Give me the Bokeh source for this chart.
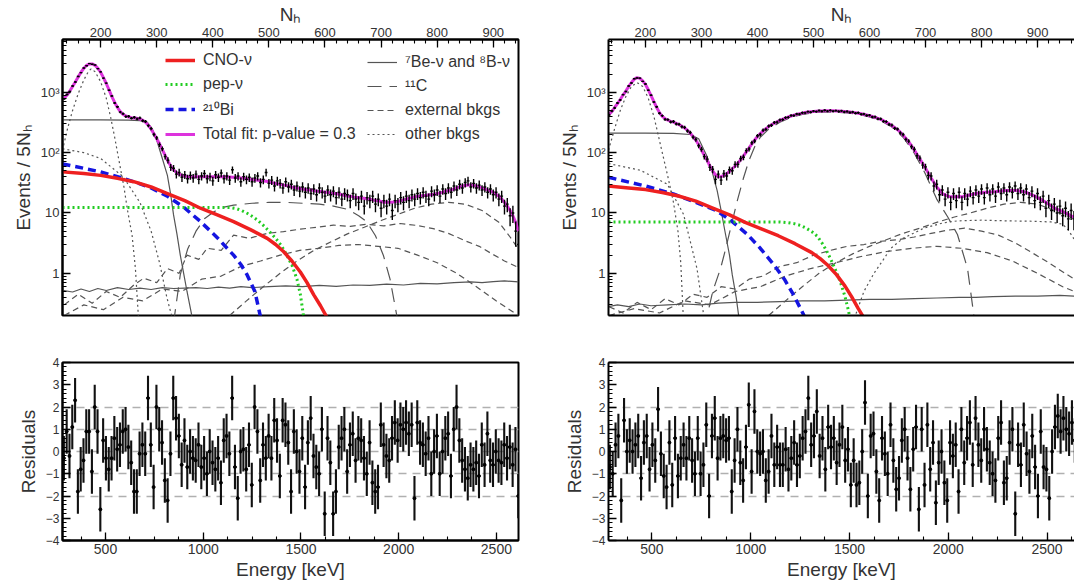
import numpy as np
from bokeh.plotting import figure
from bokeh.models import ColumnDataSource, Range1d, FixedTicker, LinearAxis, Legend, LegendItem
from bokeh.layouts import column, row
from bokeh.embed import file_html
from bokeh.resources import INLINE

FONT = "Liberation Sans"

# ---------------- binning ----------------
nh_first = 135
nh_step = 5
e_first = 287.0
e_step = 14.35

# ---------------- left spectrum (Nh bins 135..945) ----------------
fit_left = [800,900,1050,1250,1500,1800,2150,2500,2800,2950,
            2950,2800,2500,2150,1750,1400,1100,850,680,560,
            480,430,405,390,380,375,370,360,345,320,
            285,245,205,170,140,112,90,72,60,52,
            47,44,42,41,40,40,40,40,40,40,
            40,40,40,40,40,40,40,40,39.5,39.5,
            39,39,38.5,38,37.5,37,36.5,36,35.5,35,
            34.5,34,33.5,33,32,31,30.5,30,29,28.5,
            28,27,26.5,26,25.5,25,24.5,24,24,23.5,
            23,23,22.5,22,22,21.5,21,21,20.5,20,
            19.5,19,19,18.5,18,18,17.5,17.5,17,17,
            16.5,16,16,15.5,15,15,15,15,15.5,15.5,
            16,16.5,17,17.5,18,18.5,19,19,19.5,19.5,
            20,20,20.5,21,21.5,22,23,23.5,24,25,
            26,27,28,28.5,29,29,28.5,28,27,26,
            25,24,23,22,20.5,19,17,15,13,11,
            9,7,5]
data_left = [780,920,1030,1270,1480,1830,2120,2530,2760,2990,
             2920,2830,2470,2180,1720,1420,1080,870,665,575,
             470,440,395,400,372,385,362,376,338,328,
             280,250,200,176,136,116,86,75,57,55,
             44,47,39,43,37,42,38,44,36,41,
             45,37,40,34,43,39,46,37,41,35,
             52,38,41,33,40,36,39,33,38,41,
             32,36,47,31,35,28,34,31,26,33,
             27,30,24,28,23,27,22,26,21,25,
             20,26,22,19,24,20,23,18,22,17,
             21,20,16,21,17,15,19,13,18,16,
             19,14,17,12,16,13,17,11,16,14,
             18,15,19,16,20,17,21,18,22,19,
             17,23,20,24,19,25,21,26,22,28,
             24,30,26,32,34,27,31,26,29,24,
             27,22,25,20,22,17,19,13,14,9,
             10,5,3]

# ---------------- right spectrum (Nh bins 135..965) ----------------
fit_right = [430,480,560,650,760,900,1050,1250,1450,1650,
             1750,1700,1550,1350,1100,880,700,560,460,400,
             365,345,330,320,305,290,275,255,235,210,
             185,160,135,110,90,75,60,50,43,40,
             40,42,45,49,54,60,67,76,88,103,
             120,140,162,185,207,228,250,270,290,308,
             325,342,358,374,390,405,418,431,442,452,
             463,470,475,480,485,490,492,495,495,495,
             493,490,488,485,480,475,470,465,458,450,
             440,430,420,410,398,385,370,355,338,320,
             300,280,260,240,218,195,172,150,130,110,
             93,78,66,55,46,38,32,27,24,21,
             20,19,18.5,18.5,18.5,18.5,18.5,19,19.5,20,
             20.5,21,21.5,21.5,22,22,22,22.5,22.5,23,
             23,23.5,23.5,23.5,23.5,23.5,23.5,23,22.5,22,
             21,20,19,18,17,16,15,14,13,12,
             11.5,11,10.5,10,9.5,9,8.5]
data_right = [420,490,550,665,745,915,1030,1270,1430,1680,
              1730,1720,1520,1370,1080,895,690,575,450,410,
              355,352,322,328,298,296,268,262,228,216,
              180,165,130,114,86,78,57,53,36,44,
              35,45,41,52,50,64,64,80,84,108,
              115,146,156,190,200,235,243,276,284,316,
              320,348,352,380,384,412,411,438,435,459,
              456,478,467,488,478,498,485,503,487,502,
              486,497,480,492,472,482,462,472,450,457,
              432,437,412,418,390,392,362,362,330,327,
              293,286,253,246,212,200,166,155,125,114,
              89,81,62,58,42,41,28,30,20,24,
              17,22,15,21,16,22,15,21,17,23,
              18,24,19,25,18,26,20,25,19,27,
              21,26,20,27,22,28,21,26,20,25,
              18,23,16,21,15,19,12,16,11,14,
              10,13,9,12,8,11,8]

# ---------------- residuals ----------------
resid_left = [-0.3,0.9,-0.2,1.1,2.3,-1.8,-0.8,-0.4,0.9,0.9,
              -0.9,2.0,0.9,-2.6,0.5,-0.3,-0.8,-0.3,0.6,0.1,
              0.3,0.9,1.0,0.2,-0.5,-1.8,-1.8,-0.1,0.3,-0.1,
              2.4,0.3,-1.6,2.0,1.0,0.4,-1.3,-2.2,-0.1,2.4,
              1.5,0.7,-0.6,0.5,-0.7,0.0,-0.3,-0.4,0.3,-0.7,
              -0.3,-1.0,0.0,-0.5,-0.8,-0.3,-1.4,0.5,0.7,-0.1,
              2.4,-0.7,-2.1,0.0,0.1,-0.8,0.3,-1.5,2.0,0.9,
              -1.3,0.3,-0.3,0.7,-0.3,1.4,0.5,-1.1,1.4,1.2,
              0.4,-1.8,0.9,0.0,-0.9,0.6,-1.6,0.4,1.5,-0.2,
              -0.7,-1.0,1.0,-2.8,0.6,-0.5,-2.8,-1.8,0.2,0.6,
              1.0,-0.9,0.3,0.8,-0.4,0.6,0.5,-0.3,-1.0,0.4,
              -1.4,-1.8,-1.6,1.2,0.3,-0.2,-0.4,0.6,1.3,0.5,
              1.2,1.0,1.3,0.8,1.2,-2.1,1.3,0.4,0.3,-0.1,
              0.6,-1.0,0.0,0.7,-1.0,0.0,0.6,0.8,-1.1,1.0,
              2.0,0.5,-0.4,-0.8,-1.2,-0.6,-0.8,-0.5,-1.1,0.3,
              -0.6,0.8,-0.4,-0.6,0.0,-0.4,-0.5,0.3,-0.3,0.2,
              -0.6,0.1,-2.0]
resid_right = [-0.7,-1.0,0.3,0.7,-2.2,1.4,0.0,0.5,0.0,0.3,
               0.7,-1.2,0.4,0.7,-0.8,0.3,-0.4,1.9,-0.1,-1.1,
               -1.6,0.4,-1.5,0.6,-1.1,-0.3,0.3,-0.3,0.6,-0.4,
               -1.0,0.6,-1.0,-0.6,1.2,-2.0,0.7,1.5,-0.3,0.6,
               0.7,0.5,0.6,-1.8,-0.4,1.0,-0.5,-1.3,0.2,2.1,
               -0.9,1.8,0.0,-0.1,0.0,-1.3,-0.9,0.7,-0.6,0.2,
               -0.6,-0.6,0.1,-0.8,-0.3,0.4,-0.6,-0.2,0.6,0.9,
               2.4,0.3,0.7,1.8,-0.2,0.6,-0.8,1.1,0.2,0.6,
               -0.5,0.3,1.1,-0.4,0.1,-1.5,-0.4,-1.5,-1.4,0.0,
               2.2,-2.0,0.7,0.8,-0.9,-2.2,0.6,-0.1,-1.0,1.2,
               -0.4,-1.7,-1.2,0.5,1.0,-0.3,-1.7,0.1,1.1,-2.6,
               1.0,-1.5,1.2,-0.8,0.4,-2.3,-0.5,0.0,-1.4,-2.2,
               0.4,-0.2,0.3,-1.8,1.0,-0.5,0.6,1.3,-0.6,1.5,
               0.3,-0.4,1.0,0.1,-0.5,-1.0,-1.3,0.6,1.3,-1.4,
               -1.2,0.4,1.0,-2.8,0.3,-0.6,1.2,-0.1,-0.9,0.7,
               -0.7,-2.0,0.9,-0.7,-0.8,-2.1,0.0,1.1,1.6,0.9,
               1.5,1.0,0.8,1.3,0.5]

# ---------------- fit components, left (x = Nh, y = events / 5 Nh) ----------------
cno_l_nh = [132,170,200,230,259,290,319,350,378,408,437,467,497,512,526,541,556,568,580,592,603,612]
cno_l_y = [48,45,42,37.5,33,27,21,16,12,9.3,7.2,5.3,3.8,3.0,2.3,1.6,1.05,0.7,0.44,0.29,0.19,0.12]
pep_l_nh = [132,250,350,430,442,452,462,472,482,492,502,512,522,532,542,550,556,562,566]
pep_l_y = [12.3,12.3,12.3,12.3,11.8,10.9,9.8,8.6,7.3,6.0,4.8,3.8,2.9,2.0,1.3,0.8,0.45,0.19,0.12]
bi_l_nh = [132,170,200,230,259,290,319,348,378,408,437,450,461,475,485,489]
bi_l_y = [65,55,48,40,33,26,19,12.5,7.2,3.9,2.0,1.4,0.95,0.5,0.19,0.12]
be7_l_nh = [132,200,250,270,283,292,301,310,319,325,330,336,342,348,354,363,367]
be7_l_y = [350,348,345,340,320,250,150,80,42,20,9.3,4.5,2.0,1.0,0.5,0.19,0.12]
b8_l_nh = [132,150,165,180,195,210,230,250,270,290,310,330,350,370,390,410,430,450,470,500,
           530,560,590,620,650,680,710,740,770,800,830,860,880,900,920,945]
b8_l_y = [0.52,0.49,0.55,0.5,0.56,0.52,0.58,0.54,0.57,0.54,0.58,0.56,0.57,0.58,0.56,0.59,0.57,0.6,0.58,0.6,
          0.62,0.6,0.63,0.61,0.64,0.63,0.66,0.64,0.68,0.67,0.7,0.72,0.7,0.73,0.75,0.72]
c11_l_nh = [330,342,355,370,385,402,420,437,470,500,530,560,590,615,640,660,674,690,704,716,728,734]
c11_l_y = [0.15,0.95,2.5,5,8,10.5,12.5,13.5,14.5,15,15,14.5,14,13,11.5,9,7.2,4.2,2.0,0.8,0.2,0.12]
extA_l_nh = [135,160,185,210,235,260,277,300,319,340,354,375,390,415,437,465,497,526,556,585,
             615,645,674,705,734,765,793,820,852,875,894,920,941]
extA_l_y = [0.3,0.45,0.32,0.5,0.4,0.65,0.83,0.7,1.2,1.0,2.0,1.7,2.6,2.4,4.3,3.8,4.6,4.9,5.4,5.8,
            6.3,6.0,6.5,6.1,6.7,6.2,5.5,4.6,3.4,2.8,2.2,1.6,1.3]
extB_l_nh = [430,460,490,520,550,580,610,640,670,700,730,760,790,820,850,880,910,930,945]
extB_l_y = [0.2,0.35,0.6,1.0,1.6,2.4,3.3,4.5,5.8,7.5,9.5,12,14,15,14,11,7,4,2.5]
extC_l_nh = [135,170,205,240,275,310,345,380,415,450,485,520,555,590,625,660,695,730,765,800,835,870,905,945]
extC_l_y = [0.2,0.3,0.25,0.4,0.35,0.55,0.5,0.8,0.9,1.3,1.6,2.0,2.4,2.6,2.9,3.0,2.8,2.6,2.0,1.5,1.0,0.6,0.35,0.2]
po_l_nh = [132,141,150,160,170,178,183,190,200,210,218,225,232,241,248,256,262,268]
po_l_y = [110,250,500,950,1600,2200,2450,2200,1500,800,380,180,80,29,11,4.3,1.2,0.15]
kr_l_nh = [132,170,200,240,270,290,305,318,330,336]
kr_l_y = [116,100,80,40,15,5,1.5,0.4,0.15,0.1]

# ---------------- fit components, right ----------------
cno_r_nh = [132,170,200,230,259,290,319,350,378,408,437,467,497,512,526,541,556,568,580,592,603,612]
cno_r_y = [28,26,24.4,21.8,19.1,15.7,12.2,9.3,7.0,5.4,4.2,3.1,2.2,1.75,1.35,0.95,0.62,0.41,0.26,0.17,0.11,0.08]
pep_r_nh = [134,300,440,455,467,477,487,497,507,515,523,531,540,548,556,562,567,570]
pep_r_y = [7.1,7.1,7.1,6.9,6.6,6.2,5.6,4.9,4.1,3.2,2.4,1.7,1.1,0.72,0.42,0.25,0.15,0.1]
bi_r_nh = [134,200,251,290,328,355,382,405,429,448,465,483,487]
bi_r_y = [39,28,20.5,15,10.8,7.2,4.4,2.6,1.4,0.8,0.43,0.2,0.12]
be7_r_nh = [134,200,250,280,295,310,320,328,335,343,350,355,362,367,371]
be7_r_y = [210,210,208,200,170,86,45,23.5,11,4.4,2.0,0.94,0.4,0.18,0.12]
b8_r_nh = [134,150,170,190,210,240,270,300,330,360,400,440,480,520,560,600,640,680,720,760,790,820,860,900,940,966]
b8_r_y = [0.28,0.3,0.28,0.31,0.29,0.3,0.31,0.3,0.32,0.33,0.33,0.34,0.35,0.35,0.36,0.37,0.37,0.38,0.39,0.4,
          0.4,0.41,0.42,0.42,0.43,0.42]
c11_r_nh = [305,320,334,343,352,364,375,385,395,405,420,440,460,480,500,520,540,560,580,600,
            620,640,660,680,700,720,740,757,775,787,792]
c11_r_y = [0.12,0.5,1.2,2.5,5.6,16,38,75,125,180,245,320,385,430,458,472,468,455,430,392,
           338,265,180,98,44,17,8.5,4.4,1.2,0.18,0.1]
extA_r_nh = [135,160,185,210,235,260,285,310,335,360,385,410,440,470,500,530,560,590,620,650,
             680,710,740,770,800,830,860,890,920,953,966]
extA_r_y = [0.28,0.22,0.33,0.25,0.38,0.3,0.45,0.4,0.6,0.55,0.8,0.9,1.3,1.5,2.0,2.4,2.8,3.0,3.4,3.6,
            4.0,4.6,5.2,5.6,5.0,4.3,3.2,2.2,1.5,0.95,0.8]
extB_r_nh = [420,450,480,510,540,570,600,630,660,690,720,750,780,810,840,870,900,930,966]
extB_r_y = [0.2,0.35,0.6,1.0,1.5,2.1,2.8,3.6,4.6,5.6,7,8.5,10,12,14,15,14,11,8]
extC_r_nh = [135,180,225,270,315,360,405,450,495,540,585,630,675,720,765,810,855,900,945,966]
extC_r_y = [0.2,0.26,0.22,0.35,0.3,0.5,0.6,0.9,1.2,1.5,1.9,2.3,2.6,2.8,2.6,2.2,1.6,1.0,0.6,0.5]
po_r_nh = [134,145,155,165,175,185,195,205,215,222,230,240,250,258,263,268]
po_r_y = [110,250,500,850,1250,1450,1250,800,400,210,100,40,15,5,1.5,0.15]
kr_r_nh = [134,191,239,268,292,304,308]
kr_r_y = [66,51,30,9.5,1.2,0.2,0.12]
cosmo_r_nh = [570,590,608,625,638,660,697,730,757,800,846,890,924,945,955,966]
cosmo_r_y = [0.15,0.5,1.0,1.7,2.6,3.8,5.6,6.8,7.4,7.6,7.4,7.3,7.1,6.5,5.2,3.6]

# ---------------- axis ticks ----------------
nh_major = [200, 300, 400, 500, 600, 700, 800, 900]
nh_minor = list(range(140, 961, 20))
e_major = [500, 1000, 1500, 2000, 2500]
e_minor = [375 + 125 * k for k in range(19)]
log_major = [1, 10, 100, 1000]
log_minor = [m * d for d in (0.1, 1, 10, 100, 1000) for m in range(2, 10)]
log_labels = {1: "1", 10: "10", 100: "10²", 1000: "10³"}
res_major = [-4, -3, -2, -1, 0, 1, 2, 3, 4]
res_minor = [round(-4 + 0.2 * k, 1) for k in range(41)]
res_grid = [-2, -1, 0, 1, 2]

# ---------------- styles ----------------
GRAY = "#555555"
C_CNO = "#ee2020"
C_PEP = "#22cc22"
C_BI = "#1515e0"
C_TOT = "#dd33dd"


def style_axis(ax, label_size="13px"):
    ax.major_tick_in = 8
    ax.major_tick_out = 0
    ax.minor_tick_in = 4
    ax.minor_tick_out = 0
    ax.axis_line_width = 2
    ax.major_tick_line_width = 1.3
    ax.minor_tick_line_width = 1.1
    ax.major_label_text_font = FONT
    ax.major_label_text_font_size = label_size
    ax.major_label_text_color = "#333333"
    ax.major_label_standoff = 3
    ax.axis_label_text_font = FONT
    ax.axis_label_text_font_size = "19px"
    ax.axis_label_text_font_style = "normal"
    ax.axis_label_text_color = "#333333"
    ax.axis_label_standoff = 4


def border_axis():
    return LinearAxis(ticker=FixedTicker(ticks=[]), major_label_text_font_size="0px",
                      major_tick_in=0, major_tick_out=0, minor_tick_in=0, minor_tick_out=0,
                      axis_line_width=2, axis_line_color="black")


def top_figure(xr, width, left, right, open_right):
    p = figure(width=width, height=340, x_range=xr, y_range=Range1d(0.2, 7500),
               y_axis_type="log", x_axis_location="above",
               output_backend="svg", toolbar_location=None,
               min_border_left=left, min_border_right=right, min_border_top=37, min_border_bottom=25)
    p.xgrid.visible = False
    p.ygrid.visible = False
    p.background_fill_color = "white"
    p.border_fill_color = "white"
    xa = p.xaxis[0]
    xa.ticker = FixedTicker(ticks=nh_major, minor_ticks=nh_minor)
    xa.axis_label = "Nₕ"
    style_axis(xa)
    xa.axis_label_standoff = 0
    ya = p.yaxis[0]
    ya.ticker = FixedTicker(ticks=log_major, minor_ticks=log_minor)
    ya.major_label_overrides = log_labels
    ya.axis_label = "Events / 5Nₕ"
    style_axis(ya)
    if open_right:
        p.outline_line_color = None
        p.add_layout(border_axis(), "below")
    else:
        p.outline_line_color = "black"
        p.outline_line_width = 2
        p.outline_line_alpha = 1
    return p


def bottom_figure(xr, width, left, right, open_right):
    p = figure(width=width, height=242, x_range=xr, y_range=Range1d(-4, 4),
               output_backend="svg", toolbar_location=None,
               min_border_left=left, min_border_right=right, min_border_top=22, min_border_bottom=40)
    p.xgrid.visible = False
    p.ygrid.ticker = FixedTicker(ticks=res_grid)
    p.ygrid.grid_line_color = "#b0b0b0"
    p.ygrid.grid_line_dash = "8 6"
    p.ygrid.grid_line_width = 1.3
    xa = p.xaxis[0]
    xa.ticker = FixedTicker(ticks=e_major, minor_ticks=e_minor)
    xa.axis_label = "Energy [keV]"
    style_axis(xa, "14px")
    xa.axis_label_standoff = 2
    ya = p.yaxis[0]
    ya.ticker = FixedTicker(ticks=res_major, minor_ticks=res_minor)
    ya.axis_label = "Residuals"
    style_axis(ya, "12px")
    ya.major_label_overrides = {-1: "−1", -2: "−2", -3: "−3", -4: "−4"}
    if open_right:
        p.outline_line_color = None
        p.add_layout(border_axis(), "above")
    else:
        p.outline_line_color = "black"
        p.outline_line_width = 2
    return p


def add_spectrum(p, fit, counts):
    y = np.array(counts, dtype=float)
    x = nh_first + nh_step * np.arange(len(y))
    err = np.sqrt(y)
    src = ColumnDataSource(dict(x=x, y=y, lo=y - err, hi=y + err,
                                xl=x - nh_step / 2, xr=x + nh_step / 2))
    fx = nh_first + nh_step * np.arange(len(fit))
    tot = p.line(fx, fit, line_color=C_TOT, line_width=3)
    p.segment(x0="x", y0="lo", x1="x", y1="hi", source=src, line_color="black", line_width=1.4)
    p.segment(x0="xl", y0="y", x1="xr", y1="y", source=src, line_color="black", line_width=1.4)
    return tot


def add_residuals(p, res):
    r = np.array(res, dtype=float)
    x = e_first + e_step * np.arange(len(r))
    src = ColumnDataSource(dict(x=x, y=r, lo=r - 1, hi=r + 1))
    p.segment(x0="x", y0="lo", x1="x", y1="hi", source=src, line_color="#111111", line_width=2.1)
    p.scatter("x", "y", source=src, size=3, color="black")


def gray(p, xs, ys, dash):
    return p.line(xs, ys, line_color=GRAY, line_width=1.2, line_dash=dash)


# ---------------- top left ----------------
tl = top_figure(Range1d(132, 945), 540, 62, 22, False)
r_be = gray(tl, be7_l_nh, be7_l_y, "solid")
gray(tl, b8_l_nh, b8_l_y, "solid")
r_c11 = gray(tl, c11_l_nh, c11_l_y, "14 8")
r_ext = gray(tl, extA_l_nh, extA_l_y, "6 4")
gray(tl, extB_l_nh, extB_l_y, "6 4")
gray(tl, extC_l_nh, extC_l_y, "6 4")
r_oth = gray(tl, po_l_nh, po_l_y, "2 3")
gray(tl, kr_l_nh, kr_l_y, "2 3")
r_bi = tl.line(bi_l_nh, bi_l_y, line_color=C_BI, line_width=3.5, line_dash="8 5")
r_pep = tl.line(pep_l_nh, pep_l_y, line_color=C_PEP, line_width=3, line_dash="2 3")
r_cno = tl.line(cno_l_nh, cno_l_y, line_color=C_CNO, line_width=3.5)
r_tot = add_spectrum(tl, fit_left, data_left)

leg_kw = dict(label_text_font=FONT, label_text_font_size="16px", label_text_color="#333333",
              glyph_width=30, glyph_height=20, label_height=20, spacing=4, padding=0, margin=0,
              label_standoff=8, border_line_color=None, background_fill_alpha=0)
leg1 = Legend(items=[LegendItem(label="CNO-ν", renderers=[r_cno]),
                     LegendItem(label="pep-ν", renderers=[r_pep]),
                     LegendItem(label="²¹⁰Bi", renderers=[r_bi]),
                     LegendItem(label="Total fit: p-value = 0.3", renderers=[r_tot])],
              location=(103, 171), **leg_kw)
leg2 = Legend(items=[LegendItem(label="⁷Be-ν and ⁸B-ν", renderers=[r_be]),
                     LegendItem(label="¹¹C", renderers=[r_c11]),
                     LegendItem(label="external bkgs", renderers=[r_ext]),
                     LegendItem(label="other bkgs", renderers=[r_oth])],
              location=(305, 171), **leg_kw)
tl.add_layout(leg1)
tl.add_layout(leg2)

# ---------------- top right ----------------
tr = top_figure(Range1d(134, 966), 534, 68, 0, True)
gray(tr, be7_r_nh, be7_r_y, "solid")
gray(tr, b8_r_nh, b8_r_y, "solid")
gray(tr, c11_r_nh, c11_r_y, "14 8")
gray(tr, extA_r_nh, extA_r_y, "6 4")
gray(tr, extB_r_nh, extB_r_y, "6 4")
gray(tr, extC_r_nh, extC_r_y, "6 4")
gray(tr, po_r_nh, po_r_y, "2 3")
gray(tr, kr_r_nh, kr_r_y, "2 3")
gray(tr, cosmo_r_nh, cosmo_r_y, "2 3")
tr.line(bi_r_nh, bi_r_y, line_color=C_BI, line_width=3.5, line_dash="8 5")
tr.line(pep_r_nh, pep_r_y, line_color=C_PEP, line_width=3, line_dash="2 3")
tr.line(cno_r_nh, cno_r_y, line_color=C_CNO, line_width=3.5)
add_spectrum(tr, fit_right, data_right)

# ---------------- bottom ----------------
bl = bottom_figure(Range1d(280, 2613), 540, 62, 22, False)
add_residuals(bl, resid_left)
br = bottom_figure(Range1d(280, 2639), 534, 68, 0, True)
add_residuals(br, resid_right)

layout = column(row(tl, tr), row(bl, br))
open("out.html", "w").write(file_html(layout, INLINE))
